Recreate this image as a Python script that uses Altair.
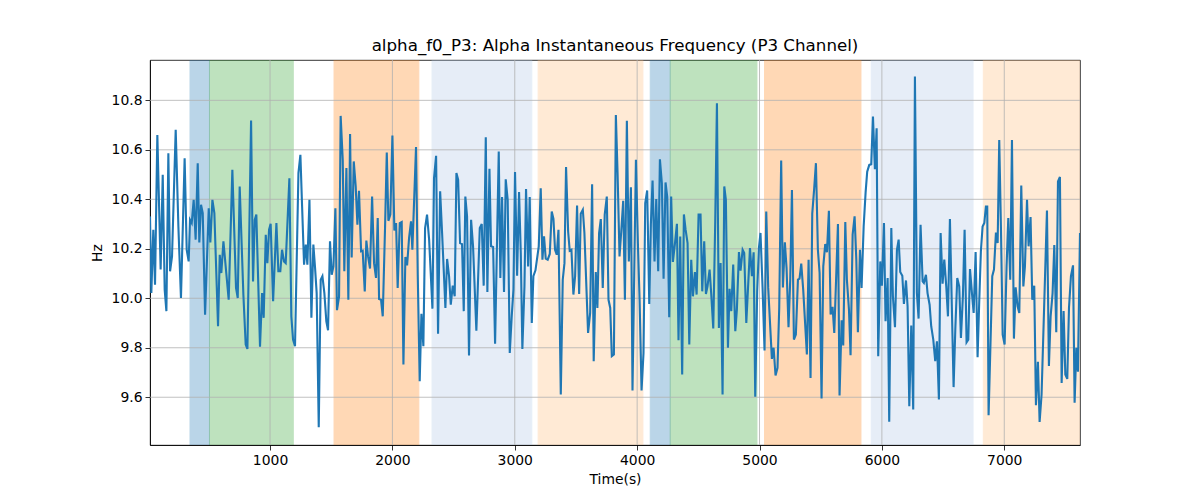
import altair as alt
import pandas as pd

# ---- data ----
times = [19, 30, 46, 60, 79, 106, 123, 139, 153, 169, 183, 199, 229, 251, 272, 302, 319, 335, 346, 360,
         376, 392, 409, 422, 436, 450, 469, 499, 512, 529, 545, 575, 589, 602, 619, 662, 692, 722, 736, 752,
         782, 801, 815, 845, 861, 875, 888, 918, 935, 948, 965, 978, 992, 1005, 1025, 1052, 1068, 1084, 1098, 1114,
         1128, 1158, 1174, 1188, 1204, 1232, 1248, 1262, 1278, 1292, 1305, 1322,
         1338, 1354, 1368, 1381, 1398, 1414, 1428, 1444, 1460, 1474, 1490, 1504, 1518, 1534, 1547, 1564, 1577, 1594,
         1607, 1624, 1640, 1654, 1667, 1684, 1700, 1714, 1727, 1744, 1757, 1774, 1787, 1801, 1817, 1834, 1850, 1866,
         1880, 1891, 1907, 1921, 1940, 1954, 1967, 1983, 2000, 2016, 2030, 2043, 2060, 2076, 2090, 2106, 2120, 2136,
         2152, 2163, 2193, 2207, 2223, 2237, 2253, 2267, 2283, 2300, 2327, 2340, 2357, 2373, 2390, 2406, 2433, 2447,
         2463, 2477, 2493, 2509, 2523, 2537,
         2553, 2569, 2583, 2596, 2610, 2626, 2643, 2659, 2686, 2714, 2730, 2746, 2763, 2776, 2793, 2806, 2823, 2839,
         2869, 2882, 2896, 2912, 2926, 2942, 2959, 2975, 2989, 3002, 3019, 3035, 3049, 3062, 3079, 3092, 3109, 3122,
         3139, 3152, 3169, 3196, 3212, 3226, 3239, 3253, 3269, 3286, 3302, 3316, 3329, 3343, 3357, 3376, 3392, 3406,
         3419, 3436, 3449, 3463, 3479, 3493, 3509, 3526, 3539, 3556, 3569, 3599, 3616, 3632, 3645, 3662, 3675, 3689,
         3703, 3719, 3735, 3752,
         3766, 3780, 3793, 3810, 3826, 3840, 3856, 3870, 3886, 3900, 3916, 3932, 3949, 3962, 3990, 4006, 4020, 4036,
         4052, 4066, 4082, 4099, 4112, 4126, 4142, 4156, 4172, 4186, 4202, 4216, 4232, 4246, 4262, 4278, 4292, 4308,
         4325, 4338, 4352, 4368, 4382, 4396, 4412, 4426, 4442, 4456, 4472, 4486, 4502, 4518, 4532, 4548, 4562, 4575,
         4592, 4605, 4622, 4638, 4652, 4668, 4682, 4698, 4712, 4725, 4742, 4755, 4769, 4785, 4802, 4815, 4832, 4845,
         4862, 4875, 4892, 4922, 4938, 4952, 4965,
         4981, 4995, 5008, 5025, 5041, 5055, 5071, 5101, 5115, 5131, 5147, 5161, 5177, 5191, 5207, 5221, 5237, 5251,
         5265, 5281, 5297, 5314, 5327, 5341, 5357, 5387, 5401, 5417, 5431, 5447, 5461, 5477, 5491, 5507, 5521, 5537,
         5551, 5567, 5581, 5597, 5611, 5641, 5654, 5671, 5684, 5701, 5714, 5731, 5744, 5761, 5777, 5791, 5804, 5821,
         5834, 5851, 5867, 5880, 5897, 5913, 5927, 5943, 5957, 5970, 5987, 6000, 6017, 6030, 6047, 6060, 6077, 6090,
         6107, 6123, 6137, 6150, 6167, 6180, 6197, 6210, 6224,
         6240, 6256, 6270, 6286, 6300, 6316, 6333, 6343, 6360, 6373, 6390, 6403, 6420, 6436, 6450, 6466, 6480, 6496,
         6510, 6526, 6540, 6556, 6586, 6600, 6616, 6632, 6646, 6662, 6676, 6692, 6706, 6720, 6736, 6750, 6766, 6782,
         6796, 6809, 6823, 6837, 6850, 6861, 6872, 6902, 6916, 6932, 6946, 6959, 6973, 6987, 7003, 7019, 7033, 7049,
         7063, 7079, 7093, 7109, 7123, 7139, 7156, 7169, 7186, 7199, 7215, 7229, 7245, 7259, 7275, 7289, 7305, 7349,
         7365, 7379, 7395, 7409, 7425, 7439, 7455, 7469, 7485, 7499, 7515, 7529, 7545, 7562, 7575, 7589, 7602, 7619]

hz = [10.331, 10.021, 10.277, 10.055, 10.660, 10.116, 10.499, 10.035, 9.948, 10.586, 10.109, 10.169, 10.681, 10.290,
      10.001, 10.566, 10.196, 10.149, 10.317, 10.304, 10.398, 10.237, 10.546, 10.226, 10.378, 10.344, 9.934, 10.364,
      10.226, 10.398, 10.344, 9.887, 10.176, 10.102, 10.230, 9.994, 10.519, 10.042, 10.001, 10.452, 10.015, 9.813,
      9.795, 10.718, 10.068, 10.317, 10.338, 9.804, 10.021, 9.921, 10.257, 10.142, 10.277, 10.301, 9.988, 10.304,
      10.109, 10.109, 10.196, 10.149, 10.142, 10.485, 9.927, 9.833, 9.806, 10.506, 10.580, 10.371, 10.136, 10.217,
      10.136, 10.398,
      9.921, 10.217, 10.122, 10.021, 9.479, 10.075, 10.089, 10.021, 9.907, 9.871, 10.230, 10.095, 10.129, 10.364,
      9.952, 10.008, 10.737, 10.560, 10.109, 10.526, 9.994, 10.664, 10.165, 10.553, 10.452, 10.297, 10.434, 10.190,
      10.192, 10.028, 10.233, 10.169, 10.120, 10.411, 10.142, 10.082, 10.324, 9.997, 9.994, 9.927, 10.290, 10.589,
      10.313, 10.338, 10.658, 10.274, 10.304, 10.042, 10.304, 10.308, 9.732, 10.167, 10.133, 10.243, 10.311, 10.196,
      10.611, 10.095, 9.665, 9.937, 9.806, 10.284, 10.338, 10.237, 9.958, 10.485, 10.576, 9.857, 10.432, 10.264,
      9.961, 10.159, 10.089, 9.974, 10.051, 10.008, 10.506, 10.479,
      10.223, 10.219, 9.948, 10.411, 10.331, 9.769, 10.317, 10.210, 9.869, 10.284, 10.300, 10.051, 10.651, 10.025,
      10.523, 10.210, 10.207, 9.816, 10.593, 10.082, 10.409, 10.025, 10.481, 10.398, 9.779, 9.927, 10.035, 10.510,
      10.091, 10.429, 10.183, 9.795, 10.048, 10.442, 10.129, 10.409, 9.900, 10.089, 10.113, 10.210, 10.445, 10.156,
      10.250, 10.160, 10.156, 10.179, 10.351, 10.321, 10.196, 10.176, 10.277, 9.611, 10.075, 10.142, 10.530, 10.270,
      10.192, 10.196, 10.015, 10.089, 10.375, 10.017, 10.342, 10.358, 10.264, 9.860, 9.941, 10.461, 9.746, 10.106,
      9.961, 10.264, 10.320, 10.042, 10.338, 10.411,
      9.994, 9.961, 9.766, 9.773, 10.741, 10.506, 10.169, 10.270, 10.394, 9.994, 10.717, 10.149, 10.449, 9.627,
      10.560, 10.223, 9.994, 9.627, 9.779, 10.385, 10.436, 9.977, 10.297, 10.476, 10.149, 10.401, 10.109, 10.562,
      10.465, 10.079, 10.468, 10.409, 9.923, 10.411, 10.147, 10.217, 10.301, 9.830, 10.250, 9.692, 10.339, 10.277,
      10.223, 9.813, 10.156, 10.008, 10.106, 10.015, 10.338, 10.338, 10.028, 10.230, 10.017, 10.048, 10.116, 10.021,
      9.878, 10.308, 10.788, 9.880, 10.142, 9.611, 10.452, 10.398, 9.800, 10.038, 9.948, 10.136, 9.867, 9.954,
      10.187, 10.112, 10.196, 10.183, 9.900, 10.203, 10.089, 10.186, 9.602,
      10.028, 10.203, 10.264, 10.042, 9.789, 10.351, 10.042, 9.755, 9.800, 9.688, 9.719, 9.961, 10.557, 10.044,
      10.226, 10.122, 9.883, 10.075, 10.438, 9.833, 9.853, 10.075, 10.079, 10.140, 10.035, 9.773, 10.156, 9.678,
      10.342, 10.445, 10.546, 10.196, 10.102, 9.595, 10.129, 10.219, 10.186, 10.354, 9.934, 9.965, 9.860, 10.300,
      9.607, 9.911, 9.809, 10.308, 10.075, 9.954, 9.770, 10.257, 10.331, 10.156, 9.863, 10.196, 10.042, 10.290,
      10.428, 10.512, 10.539, 10.542, 10.734, 10.522, 10.687, 9.766, 10.149, 10.051, 10.304, 9.907, 10.082, 9.501,
      10.284, 10.008, 9.883, 10.196, 10.237, 10.106, 10.091, 9.977, 10.072, 9.968, 9.564,
      9.890, 9.551, 10.896, 10.021, 9.918, 10.297, 10.068, 10.062, 10.095, 10.021, 9.974, 9.887, 9.833, 9.746,
      9.826, 9.591, 10.264, 10.059, 10.156, 10.048, 9.927, 10.320, 9.641, 9.874, 10.082, 10.048, 9.840, 10.008,
      10.277, 9.822, 9.833, 10.118, 10.021, 9.941, 10.187, 9.762, 9.994, 10.190, 10.290, 10.304, 10.371, 10.371,
      9.527, 10.089, 10.116, 10.266, 10.223, 10.640, 10.284, 9.853, 9.813, 10.129, 10.324, 10.075, 10.640, 9.837,
      10.044, 9.968, 9.941, 10.456, 10.048, 10.129, 10.398, 10.210, 10.328, 9.994, 10.051, 9.568, 9.743, 9.500,
      9.611, 10.355, 9.726, 9.927, 10.021, 10.215, 9.863, 10.472, 10.490, 9.658, 9.948, 9.692, 9.674, 9.961,
      10.089, 10.133, 9.578, 9.800, 9.703, 10.264]

band_start = [346, 505, 1523, 2324, 3191, 4107, 4270, 5041, 5913, 6829]
band_end = [505, 1190, 2216, 3139, 4047, 4270, 4979, 5829, 6745, 7619]
band_color = ["#1f77b4", "#2ca02c", "#ff7f0e", "#aec7e8", "#ffbb78",
              "#1f77b4", "#2ca02c", "#ff7f0e", "#aec7e8", "#ffbb78"]

x_ticks = [1000, 2000, 3000, 4000, 5000, 6000, 7000]
y_ticks = [9.6, 9.8, 10.0, 10.2, 10.4, 10.6, 10.8]

x_domain = [19, 7619]
y_domain = [9.407, 10.963]

title_text = "alpha_f0_P3: Alpha Instantaneous Frequency (P3 Channel)"

# ---- tables ----
line_df = pd.DataFrame({"t": times, "v": hz})
band_df = pd.DataFrame({"s": band_start, "e": band_end, "c": band_color})
xgrid_df = pd.DataFrame({"t": x_ticks})
ygrid_df = pd.DataFrame({"v": y_ticks})

FONT = "DejaVu Sans"

xscale = alt.Scale(domain=x_domain, nice=False, zero=False)
yscale = alt.Scale(domain=y_domain, nice=False, zero=False)

xaxis = alt.Axis(values=x_ticks, format="d", title="Time(s)", grid=False,
                 tickSize=5, tickColor="black", tickWidth=0.8, labelPadding=3,
                 domainColor="black", domainWidth=0.8,
                 labelFont=FONT, labelFontSize=13.9, labelColor="black",
                 titleFont=FONT, titleFontSize=13.9, titleFontWeight="normal",
                 titleColor="black", titlePadding=6)
yaxis = alt.Axis(values=y_ticks, format=".1f", title="Hz", grid=False,
                 tickSize=5, tickColor="black", tickWidth=0.8, labelPadding=3,
                 domainColor="black", domainWidth=0.8,
                 labelFont=FONT, labelFontSize=13.9, labelColor="black",
                 titleFont=FONT, titleFontSize=13.9, titleFontWeight="normal",
                 titleColor="black", titlePadding=7)

bands = alt.Chart(band_df).mark_rect(opacity=0.3, strokeWidth=1, clip=True).encode(
    x=alt.X("s:Q", scale=xscale, axis=xaxis),
    x2="e:Q",
    color=alt.Color("c:N", scale=None),
    stroke=alt.Stroke("c:N", scale=None),
)

xgrid = alt.Chart(xgrid_df).mark_rule(color="#b0b0b0", strokeWidth=0.8).encode(
    x=alt.X("t:Q", scale=xscale, axis=xaxis)
)
ygrid = alt.Chart(ygrid_df).mark_rule(color="#b0b0b0", strokeWidth=0.8).encode(
    y=alt.Y("v:Q", scale=yscale, axis=yaxis)
)

line = alt.Chart(line_df).mark_line(color="#1f77b4", strokeWidth=2.1, clip=True).encode(
    x=alt.X("t:Q", scale=xscale, axis=xaxis),
    y=alt.Y("v:Q", scale=yscale, axis=yaxis),
)

chart = alt.layer(bands, xgrid, ygrid, line).properties(
    width=930,
    height=385,
    autosize="none",
    background="white",
    padding={"left": 142, "top": 52, "right": 112, "bottom": 47},
    title=alt.TitleParams(title_text, font=FONT, fontSize=16.7, fontWeight="normal",
                          color="black", anchor="middle", offset=8, baseline="alphabetic",
                          dy=16),
).configure_view(
    stroke="black", strokeWidth=0.8
)

chart.save("out.html", embed_options={"renderer": "svg", "actions": False})
